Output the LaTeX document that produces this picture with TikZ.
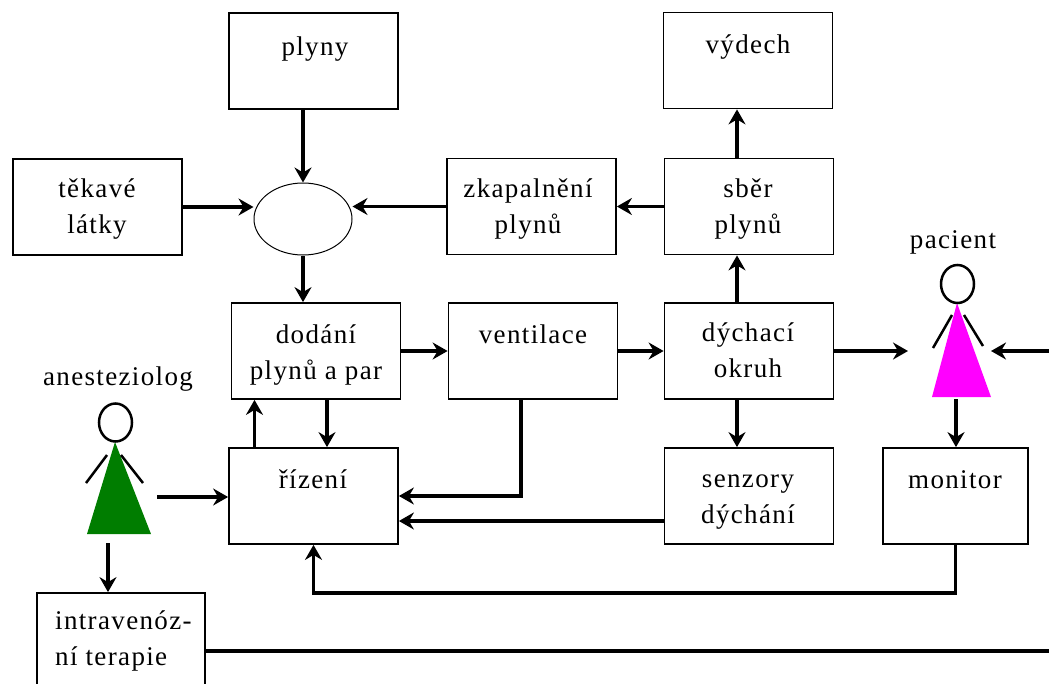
\documentclass[tikz,border=0pt]{standalone}
\usepackage{fontspec}
\setmainfont{Liberation Serif}[LetterSpace=5]
\usetikzlibrary{arrows.meta,shapes.geometric}
\definecolor{dressgreen}{RGB}{0,125,0}
\definecolor{dressmagenta}{RGB}{255,0,255}
\tikzset{x=1pt, y=-1pt,
    box/.style={draw, line width=1.8pt, minimum width=169pt, minimum height=96pt, inner sep=0pt},
    txt/.style={font=\fontsize{27}{36}\selectfont, align=center, inner sep=0pt, anchor=base},
    mix/.style={ellipse, draw, line width=1pt, minimum width=98pt, minimum height=72pt, inner sep=0pt},
    head/.style={ellipse, draw, line width=2.5pt, minimum width=33pt, minimum height=38pt, inner sep=0pt},
    limb/.style={line width=2.5pt},
    flow/.style={line width=3.3pt, -{Stealth[length=15pt,width=17pt,inset=5pt]}},
    link/.style={line width=3.3pt},
    }

\begin{document}
\begin{tikzpicture}
\useasboundingbox (0,0) rectangle (1049,683);
% boxes
\node[box] (plyny) at (313.5,61) {};
\node[box] (vydech) at (748,60.5) {};
\node[box] (tekave) at (97.5,207) {};
\node[mix] (mix) at (303,219) {};
\node[box] (zkapalneni) at (531.5,206.5) {};
\node[box] (sber) at (749,206.5) {};
\node[box] (dodani) at (316,351) {};
\node[box] (ventilace) at (533,351) {};
\node[box] (okruh) at (749,351) {};
\node[box] (rizeni) at (313.5,496) {};
\node[box] (senzory) at (749,496) {};
\node[box, minimum width=145pt] (monitor) at (955.5,496) {};
\node[box, minimum width=168pt] (terapie) at (121,641) {};
% texts (base = last line)
\node[txt] (t-plyny) at (315,55) {plyny};
\node[txt] (t-vydech) at (748,53) {výdech};
\node[txt] (t-tekave) at (97,233) {těkavé\\látky};
\node[txt] (t-zkapalneni) at (528,233) {zkapalnění\\plynů};
\node[txt] (t-sber) at (748,233) {sběr\\plynů};
\node[txt] (t-dodani) at (316,379) {dodání\\plynů a par};
\node[txt] (t-ventilace) at (533,343) {ventilace};
\node[txt] (t-okruh) at (748,377) {dýchací\\okruh};
\node[txt] (t-rizeni) at (313,488) {řízení};
\node[txt] (t-senzory) at (748,523) {senzory\\dýchání};
\node[txt] (t-monitor) at (955,488) {monitor};
\node[txt, align=left, anchor=base west] (t-terapie) at (55,665) {intravenóz-\\ní terapie};
% people
\fill[dressgreen] (115,442) -- (151,534) -- (87,534) -- cycle;
\draw[limb] (107,455) -- (86,483) (121,455) -- (143,483);
\node[head, fill=white] (anest) at (115.5,422.5) {};
\node[txt] (t-anest) at (118,385) {anesteziolog};
\fill[dressmagenta] (957,303) -- (991,397) -- (932,397) -- cycle;
\draw[limb] (952,315) -- (933,348) (964,315) -- (983,346);
\node[head, fill=white] (pacient) at (957.5,284) {};
\node[txt] (t-pacient) at (953,248) {pacient};
\coordinate (anest-r) at (157,497);
\coordinate (anest-b) at (108,543);
\coordinate (pac-l) at (908,351);
\coordinate (pac-r) at (991,351);
\coordinate (pac-b) at (956,399);
\coordinate (edge-r) at (1049,351);
\coordinate (edge-t) at (1049,651);
% connectors
\draw[flow] (plyny.south -| mix) -- (mix.north);
\draw[flow] (tekave.east) -- (tekave.east -| mix.west);
\draw[flow] (zkapalneni.west) -- (zkapalneni.west -| mix.east);
\draw[flow] (sber.west) -- (sber.west -| zkapalneni.east);
\draw[flow] ([xshift=-12pt]sber.north) -- ([xshift=-12pt]sber.north |- vydech.south);
\draw[flow] (mix.south) -- (mix.south |- dodani.north);
\draw[flow] (dodani.east) -- (ventilace.west);
\draw[flow] (ventilace.east) -- (okruh.west);
\draw[flow] ([xshift=-12pt]okruh.north) -- ([xshift=-12pt]okruh.north |- sber.south);
\draw[flow] ([xshift=-12pt]okruh.south) -- ([xshift=-12pt]okruh.south |- senzory.north);
\draw[flow] (okruh.east) -- (pac-l);
\draw[flow] (edge-r) -- (pac-r);
\draw[flow] (pac-b) -- (pac-b |- monitor.north);
\draw[flow] ([xshift=-59pt]rizeni.north) -- ([xshift=-59pt]rizeni.north |- dodani.south);
\draw[flow] ([xshift=11pt]dodani.south) -- ([xshift=11pt]dodani.south |- rizeni.north);
\draw[flow] ([xshift=-12pt]ventilace.south) |- (rizeni.east);
\draw[flow] ([yshift=-25pt]senzory.west) -- ([yshift=-25pt]senzory.west -| rizeni.east);
\draw[flow] (monitor.south) -- ++(0,48) -| (rizeni.south);
\draw[flow] (anest-r) -- (anest-r -| rizeni.west);
\draw[flow] (anest-b) -- (anest-b |- terapie.north);
\draw[link] (edge-t -| terapie.east) -- (edge-t);
\end{tikzpicture}
\end{document}
